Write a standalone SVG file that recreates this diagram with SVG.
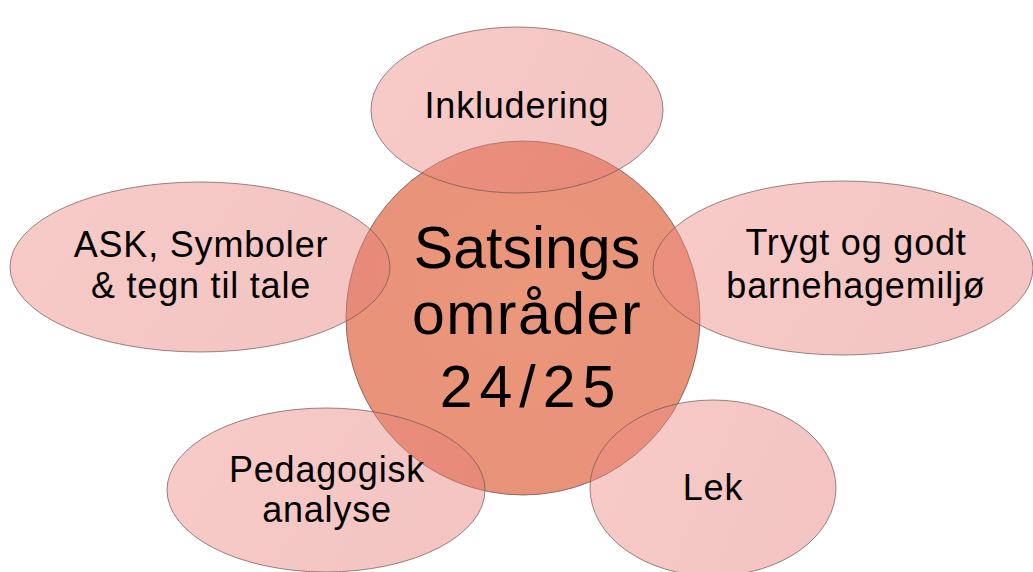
<svg xmlns="http://www.w3.org/2000/svg" width="1033" height="572" viewBox="0 0 1033 572">
<defs>
<linearGradient id="satG" x1="0" y1="0" x2="1" y2="0.3">
<stop offset="0" stop-color="#ee8e86"/>
<stop offset="1" stop-color="#e6807a"/>
</linearGradient>
<radialGradient id="cenG" cx="0.5" cy="0.45" r="0.6">
<stop offset="0" stop-color="#eb977a"/>
<stop offset="1" stop-color="#e8927a"/>
</radialGradient>
</defs>
<style>
.sat{fill:url(#satG);fill-opacity:0.46;stroke:#6e5550;stroke-opacity:0.7;stroke-width:1}
.cen{fill:url(#cenG);stroke:#6e5550;stroke-opacity:0.8;stroke-width:1}
.t{font-family:"Liberation Sans","DejaVu Sans",sans-serif;fill:#000;text-anchor:middle}
.ts{font-size:36px;letter-spacing:0.8px}
.tc{font-size:59px}
</style>
<g id="center">
<circle class="cen" cx="523" cy="318" r="177"/>
<text class="t tc" x="527" y="268">Satsings</text>
<text class="t tc" x="527" y="334" style="letter-spacing:1.5px">områder</text>
<text class="t tc" x="531" y="407" style="letter-spacing:7px">24/25</text>
</g>
<g id="connectors"></g>
<g id="inkludering">
<ellipse class="sat" cx="517" cy="110" rx="146" ry="83"/>
<text class="t ts" x="517" y="118">Inkludering</text>
</g>
<g id="ask">
<ellipse class="sat" cx="200" cy="267" rx="190" ry="85"/>
<text class="t ts" x="201" y="257">ASK, Symboler</text>
<text class="t ts" x="201" y="298">&amp; tegn til tale</text>
</g>
<g id="trygt">
<ellipse class="sat" cx="843" cy="268" rx="190" ry="87"/>
<text class="t ts" x="856" y="255">Trygt og godt</text>
<text class="t ts" x="856" y="298">barnehagemiljø</text>
</g>
<g id="pedagogisk">
<ellipse class="sat" cx="326" cy="490" rx="159" ry="82"/>
<text class="t ts" x="327" y="482">Pedagogisk</text>
<text class="t ts" x="327" y="522">analyse</text>
</g>
<g id="lek">
<ellipse class="sat" cx="713" cy="488" rx="123" ry="88"/>
<text class="t ts" x="713" y="500">Lek</text>
</g>
</svg>
